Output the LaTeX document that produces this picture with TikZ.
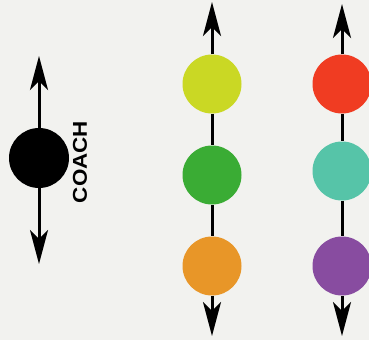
\documentclass[tikz,border=0pt]{standalone}
\usepackage{fontspec}
\setmainfont{Liberation Sans}
\usetikzlibrary{arrows.meta}
\definecolor{bg}{RGB}{242,242,239}
\definecolor{cyel}{RGB}{202,216,36}
\definecolor{cgrn}{RGB}{58,172,52}
\definecolor{corg}{RGB}{232,150,40}
\definecolor{cred}{RGB}{240,60,34}
\definecolor{cteal}{RGB}{86,196,168}
\definecolor{cpur}{RGB}{136,76,160}
\tikzset{
  dot/.style={circle, minimum size=59pt, inner sep=0pt, fill=#1},
  axis/.style={line width=3pt, black},
  tipped/.style={axis, -{Stealth[length=34pt, width=18pt, inset=9pt]}},
}
\begin{document}
\begin{tikzpicture}[x=1pt, y=-1pt]
\fill[bg] (0,0) rectangle (369,340);
\useasboundingbox (0,0) rectangle (369,340);
% coach
\coordinate (ct) at (39,56);
\coordinate (cb) at (39,264);
\node[dot=black, minimum size=60pt] (coach) at (39,158) {};
\draw[tipped] (coach) -- (ct);
\draw[tipped] (coach) -- (cb);
\node[rotate=90, font=\bfseries\fontsize{20}{20}\selectfont] (lbl) at (80,162) {\scalebox{1.12}[1]{COACH}};
% column 1
\coordinate (at) at (212,2);
\coordinate (ab) at (212,336);
\node[dot=cyel] (a1) at (212,84) {};
\node[dot=cgrn] (a2) at (212,175) {};
\node[dot=corg] (a3) at (212,266) {};
\draw[tipped] (a1) -- (at);
\draw[axis] (a1) -- (a2);
\draw[axis] (a2) -- (a3);
\draw[tipped] (a3) -- (ab);
% column 2
\coordinate (bt) at (342,4);
\coordinate (bb) at (342,336);
\node[dot=cred] (b1) at (342,84) {};
\node[dot=cteal] (b2) at (342,171) {};
\node[dot=cpur] (b3) at (342,266) {};
\draw[tipped] (b1) -- (bt);
\draw[axis] (b1) -- (b2);
\draw[axis] (b2) -- (b3);
\draw[tipped] (b3) -- (bb);
\end{tikzpicture}
\end{document}
